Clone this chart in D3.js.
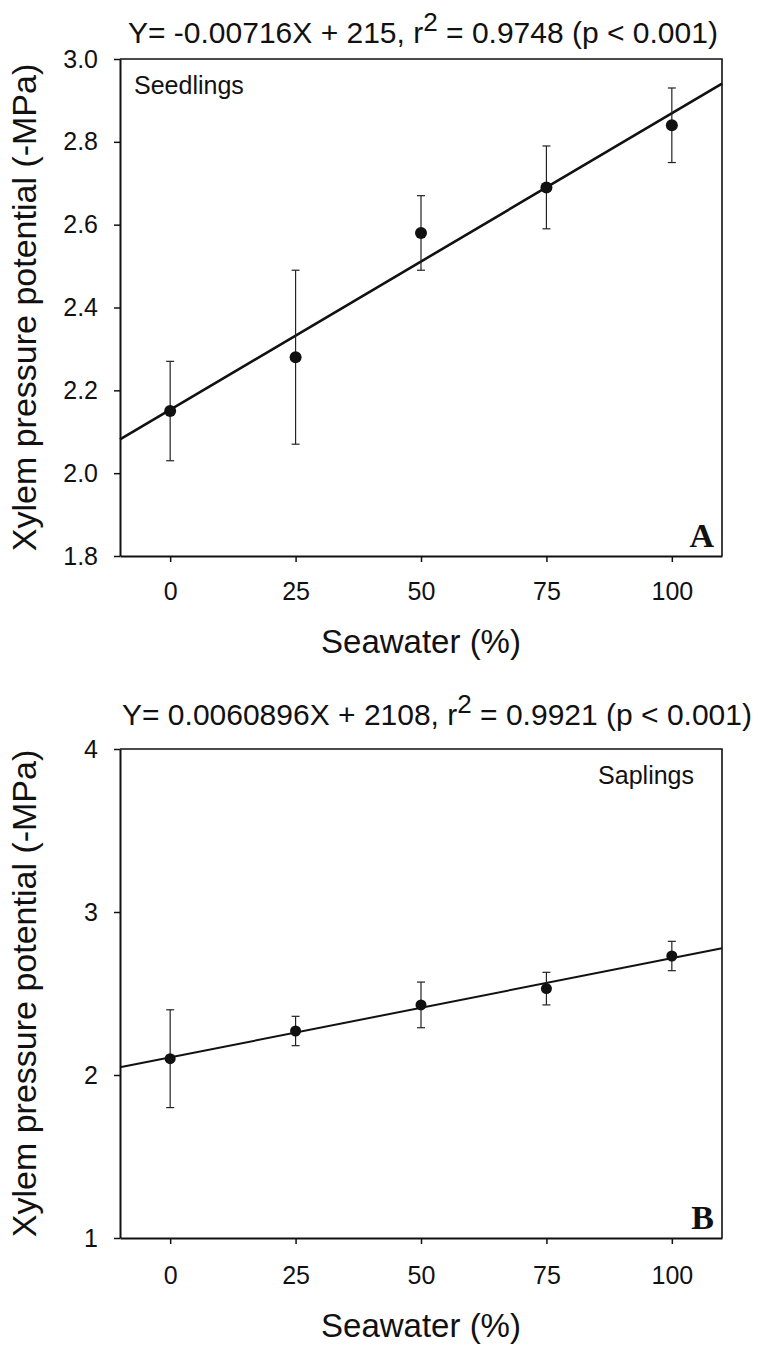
<!DOCTYPE html>
<html lang="en">
<head>
<meta charset="utf-8">
<script src="https://d3js.org/d3.v7.min.js"></script>
<title>Xylem pressure potential vs seawater</title>
<style>
  body, html { margin: 0; padding: 0; background: #fff; }
  svg { display: block; font-family: 'Liberation Sans', Arial, sans-serif; }
  .tick text { font-size: 25px; fill: #111; }
  .tick line { stroke: #111; stroke-width: 1.5; }
  .domain { stroke: #111; stroke-width: 2; }
</style>
</head>
<body>
<div id="chart"></div>
<script>
// ---- data ----
const seawater = [0, 25, 50, 75, 100];
const xTicks = [0, 25, 50, 75, 100];

// panel A - seedlings
const seedMean = [2.15, 2.28, 2.58, 2.69, 2.84];
const seedErr = [0.12, 0.21, 0.09, 0.10, 0.09];
const seedFit = { slope: 0.00716, intercept: 2.153 };
const seedTicks = [1.8, 2.0, 2.2, 2.4, 2.6, 2.8, 3.0];

// panel B - saplings
const sapMean = [2.10, 2.27, 2.43, 2.53, 2.73];
const sapErr = [0.30, 0.09, 0.14, 0.10, 0.09];
const sapFit = { slope: 0.0060896, intercept: 2.108 };
const sapTicks = [1, 2, 3, 4];

const width = 759;
const height = 1349;

const svg = d3.select("#chart").append("svg")
    .attr("width", width)
    .attr("height", height);

const x = d3.scaleLinear().domain([-10, 110]).range([120, 722]);

// draws one panel
function panel(opts) {
  const y = d3.scaleLinear().domain(opts.yDomain).range(opts.yRange);
  const g = svg.append("g");
  const top = opts.yRange[1], bottom = opts.yRange[0];

  // frame (top + right thinner)
  g.append("path")
    .attr("d", `M${x.range()[0]},${top}H${x.range()[1]}V${bottom}`)
    .attr("fill", "none")
    .attr("stroke", "#111")
    .attr("stroke-width", 1.6);

  g.append("g")
    .attr("transform", `translate(${x.range()[0]},0)`)
    .call(d3.axisLeft(y).tickValues(opts.yTicks).tickFormat(opts.yFormat)
      .tickSize(6).tickSizeOuter(0).tickPadding(16));

  g.append("g")
    .attr("transform", `translate(0,${bottom})`)
    .call(d3.axisBottom(x).tickValues(xTicks).tickFormat(d3.format("d"))
      .tickSize(6).tickSizeOuter(0).tickPadding(opts.xPad));

  // regression line across the full plot width
  const xd = x.domain();
  g.append("line")
    .attr("x1", x(xd[0])).attr("y1", y(opts.fit.intercept + opts.fit.slope * xd[0]))
    .attr("x2", x(xd[1])).attr("y2", y(opts.fit.intercept + opts.fit.slope * xd[1]))
    .attr("stroke", "#111")
    .attr("stroke-width", opts.lineW);

  // error bars
  const pts = seawater.map((s, i) => ({ s, m: opts.mean[i], e: opts.err[i] }));
  const eb = g.append("g").attr("stroke", "#222").attr("stroke-width", 1.2);
  eb.selectAll("line.v").data(pts).join("line")
    .attr("x1", d => x(d.s)).attr("x2", d => x(d.s))
    .attr("y1", d => y(d.m + d.e)).attr("y2", d => y(d.m - d.e));
  eb.selectAll("line.t").data(pts).join("line")
    .attr("x1", d => x(d.s) - 4).attr("x2", d => x(d.s) + 4)
    .attr("y1", d => y(d.m + d.e)).attr("y2", d => y(d.m + d.e));
  eb.selectAll("line.b").data(pts).join("line")
    .attr("x1", d => x(d.s) - 4).attr("x2", d => x(d.s) + 4)
    .attr("y1", d => y(d.m - d.e)).attr("y2", d => y(d.m - d.e));

  g.selectAll("circle").data(pts).join("circle")
    .attr("cx", d => x(d.s))
    .attr("cy", d => y(d.m))
    .attr("r", opts.r)
    .attr("fill", "#111");

  // equation above the panel
  const eq = g.append("text")
    .attr("x", opts.eqX).attr("y", opts.eqY)
    .attr("font-size", 30)
    .attr("fill", "#111");
  eq.append("tspan").text(opts.eq[0]);
  eq.append("tspan").attr("dy", -12).attr("font-size", 26).text("2");
  eq.append("tspan").attr("dy", 12).text(" " + opts.eq[1]);

  // group label
  g.append("text")
    .attr("x", opts.groupX).attr("y", opts.groupY)
    .attr("text-anchor", opts.groupAnchor)
    .attr("font-size", 25)
    .attr("fill", "#111")
    .text(opts.group);

  // panel letter
  g.append("text")
    .attr("x", 714).attr("y", bottom - 9)
    .attr("text-anchor", "end")
    .attr("font-family", "'Liberation Serif', 'Times New Roman', serif")
    .attr("font-weight", "bold")
    .attr("font-size", 34)
    .attr("fill", "#111")
    .text(opts.letter);

  // axis titles
  g.append("text")
    .attr("transform", `translate(36,${(top + bottom) / 2}) rotate(-90)`)
    .attr("text-anchor", "middle")
    .attr("font-size", 34)
    .attr("fill", "#111")
    .text("Xylem pressure potential (-MPa)");

  g.append("text")
    .attr("x", (x.range()[0] + x.range()[1]) / 2)
    .attr("y", opts.xTitleY)
    .attr("text-anchor", "middle")
    .attr("font-size", 33)
    .attr("fill", "#111")
    .text("Seawater (%)");
}

panel({
  yDomain: [1.8, 3.0], yRange: [556, 59], yTicks: seedTicks, yFormat: d3.format(".1f"),
  mean: seedMean, err: seedErr, fit: seedFit, lineW: 2.6, r: 6, xPad: 20,
  eq: ["Y= -0.00716X + 215, r", "= 0.9748 (p < 0.001)"], eqX: 128, eqY: 43,
  group: "Seedlings", groupX: 134, groupY: 94, groupAnchor: "start",
  letter: "A", xTitleY: 653
});

panel({
  yDomain: [1, 4], yRange: [1238, 749], yTicks: sapTicks, yFormat: d3.format("d"),
  mean: sapMean, err: sapErr, fit: sapFit, lineW: 2, r: 5.5, xPad: 22,
  eq: ["Y= 0.0060896X + 2108, r", "= 0.9921 (p < 0.001)"], eqX: 122, eqY: 725,
  group: "Saplings", groupX: 694, groupY: 784, groupAnchor: "end",
  letter: "B", xTitleY: 1337
});
</script>
</body>
</html>
